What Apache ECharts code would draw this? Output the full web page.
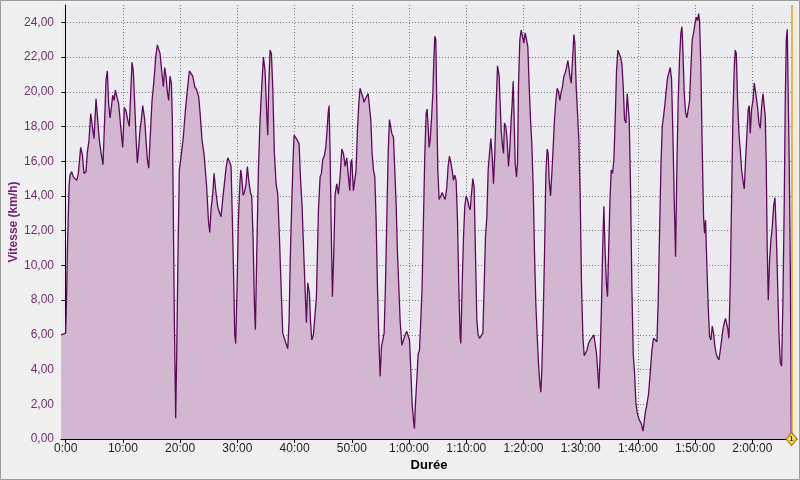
<!DOCTYPE html>
<html><head><meta charset="utf-8">
<script src="https://cdn.jsdelivr.net/npm/echarts@6/dist/echarts.min.js"></script>
<style>html,body{margin:0;padding:0;background:#f0f0f0}#c{width:800px;height:480px}</style>
</head><body><div id="c"></div>
<script>
// Duration in minutes
const minutes = [
-0.8,0.0,0.17,0.29,0.58,0.75,1.04,1.33,1.63,1.92,2.21,2.62,2.91,3.20,3.55,3.78,4.07,4.37,4.66,4.95,
5.30,5.59,5.88,6.23,6.52,6.81,7.05,7.28,7.51,7.75,7.98,8.21,8.44,8.68,8.97,9.26,9.61,9.96,10.25,10.54,
10.83,11.12,11.36,11.59,11.82,12.06,12.29,12.52,12.76,12.99,13.22,13.46,13.81,14.04,14.27,14.51,14.74,15.09,15.44,15.73,
16.02,16.25,16.49,16.78,17.07,17.30,17.53,17.77,18.00,18.23,18.47,18.64,18.82,18.99,19.22,19.40,19.63,19.86,20.21,20.56,
20.91,21.26,21.61,21.90,22.20,22.55,22.90,23.25,23.48,23.83,24.18,24.35,24.64,24.94,25.17,25.40,25.69,25.93,26.22,26.57,
26.80,27.15,27.44,27.73,28.02,28.32,28.61,28.90,29.13,29.36,29.54,29.71,29.95,30.18,30.41,30.59,30.76,31.00,31.23,31.52,
31.75,31.99,32.28,32.51,32.74,32.98,33.15,33.39,33.68,33.97,34.26,34.55,34.84,35.13,35.31,35.48,35.72,35.95,36.18,36.47,
36.77,37.06,37.35,37.64,37.93,38.22,38.51,38.81,39.04,39.27,39.51,39.74,39.91,40.20,40.50,40.79,41.02,41.31,41.60,41.84,
42.07,42.30,42.59,42.77,43.00,43.29,43.53,43.82,44.17,44.46,44.69,44.92,45.22,45.45,45.68,45.86,46.03,46.21,46.38,46.61,
46.85,47.08,47.37,47.66,47.95,48.25,48.54,48.83,49.12,49.41,49.64,49.82,49.99,50.28,50.58,50.75,50.98,51.22,51.45,51.68,
51.92,52.15,52.38,52.62,52.85,53.08,53.32,53.55,53.78,54.02,54.25,54.48,54.71,54.95,55.18,55.41,55.65,55.88,56.11,56.35,
56.58,56.75,56.99,57.28,57.51,57.74,57.98,58.21,58.44,58.74,59.03,59.32,59.61,59.84,60.08,60.31,60.54,60.77,60.95,61.12,
61.36,61.59,61.82,62.06,62.29,62.52,62.76,62.99,63.16,63.34,63.51,63.69,63.92,64.16,64.33,64.51,64.68,64.85,65.03,65.26,
65.55,65.79,66.02,66.31,66.60,66.83,67.07,67.30,67.53,67.77,68.00,68.23,68.47,68.70,68.93,69.05,69.28,69.52,69.75,69.98,
70.22,70.45,70.68,70.91,71.15,71.38,71.61,71.85,72.08,72.31,72.60,72.90,73.13,73.36,73.60,73.83,74.06,74.30,74.53,74.76,
74.99,75.23,75.46,75.75,75.93,76.10,76.33,76.51,76.68,76.92,77.15,77.38,77.62,77.85,78.02,78.20,78.37,78.55,78.78,78.96,
79.13,79.36,79.60,79.83,80.06,80.30,80.53,80.76,81.00,81.23,81.46,81.70,81.93,82.16,82.40,82.63,82.86,83.04,83.21,83.44,
83.68,83.91,84.14,84.32,84.49,84.73,84.96,85.19,85.42,85.66,85.89,86.12,86.36,86.59,86.82,87.06,87.29,87.52,87.76,87.93,
88.11,88.34,88.57,88.81,88.98,89.21,89.45,89.68,89.91,90.15,90.38,90.61,90.84,91.08,91.37,91.66,91.95,92.30,92.53,92.77,
93.00,93.17,93.41,93.64,93.82,94.05,94.28,94.52,94.69,94.87,95.10,95.33,95.56,95.80,96.03,96.26,96.50,96.73,96.96,97.20,
97.43,97.66,97.90,98.13,98.30,98.48,98.71,98.94,99.18,99.41,99.65,99.88,100.23,100.58,100.90,101.28,101.57,101.86,102.15,102.44,
102.73,103.02,103.32,103.55,103.78,104.02,104.25,104.48,104.72,104.95,105.18,105.41,105.65,105.88,106.11,106.35,106.58,106.81,107.04,107.28,
107.51,107.69,107.86,108.09,108.33,108.56,108.79,109.03,109.26,109.49,109.73,109.96,110.19,110.43,110.60,110.77,111.00,111.24,111.47,111.65,
111.82,112.06,112.29,112.52,112.76,112.99,113.22,113.46,113.69,113.92,114.16,114.39,114.62,114.85,115.09,115.32,115.55,115.73,115.90,116.14,
116.37,116.60,116.84,117.01,117.19,117.42,117.65,117.88,118.12,118.35,118.58,118.82,119.05,119.28,119.46,119.63,119.87,120.10,120.33,120.51,
120.68,120.91,121.15,121.38,121.61,121.85,122.08,122.25,122.43,122.60,122.78,123.01,123.25,123.48,123.71,123.95,124.18,124.41,124.64,124.88,
125.11,125.34,125.58,125.75,125.93,126.10,126.28,126.45,126.63,126.74,126.80
];
// Speed in km/h
const speeds = [
6.0,6.1,8.4,10.7,14.5,15.2,15.4,15.1,15.2,14.9,15.3,16.8,16.4,15.3,15.4,16.5,17.2,18.75,18.0,17.3,
19.6,18.4,17.2,16.4,15.8,18.4,20.7,21.2,19.3,18.5,19.1,19.8,19.5,20.1,20.2,19.3,18.0,16.8,19.1,18.9,
18.4,18.0,19.9,21.7,21.2,19.3,17.4,15.9,16.8,17.8,18.4,19.2,18.4,17.2,16.1,15.6,17.2,19.5,20.7,22.0,
22.7,22.8,22.2,21.2,20.3,21.4,20.9,20.0,19.5,20.9,20.5,18.4,12.6,6.9,1.2,4.9,10.7,15.5,16.4,17.4,
18.9,20.1,21.2,21.3,20.9,20.3,20.1,19.7,18.8,17.2,16.4,16.3,14.5,12.6,11.9,13.2,14.1,15.3,14.3,13.4,
13.1,12.8,13.8,14.7,15.6,16.2,16.0,15.7,12.6,9.2,6.0,5.5,8.8,12.6,14.5,15.5,15.1,14.05,14.2,14.7,
15.7,14.9,14.2,14.0,11.65,7.8,6.3,10.7,15.5,18.4,20.3,22.0,21.2,18.75,17.5,20.3,22.4,22.2,20.3,16.45,
14.7,14.1,11.65,8.8,6.1,5.8,5.5,5.2,6.85,10.7,13.6,16.1,17.5,17.6,17.2,17.0,15.1,13.4,10.7,8.6,
6.7,9.0,8.4,6.85,5.7,6.0,6.1,8.2,13.2,15.1,15.3,16.1,16.35,16.8,17.8,18.75,19.2,16.45,12.6,8.2,
10.7,14.1,14.7,14.1,15.1,16.7,16.45,15.7,16.2,15.1,14.3,15.9,16.1,14.3,14.2,15.5,17.8,19.3,20.2,20.1,
19.7,19.4,19.6,19.7,19.9,20.0,18.4,16.45,15.5,15.1,12.6,8.8,5.9,3.6,5.3,5.7,6.1,8.8,12.6,16.45,
18.4,18.5,17.6,17.4,15.5,13.6,10.7,8.8,6.85,5.4,5.7,6.0,6.2,6.1,5.7,4.0,2.05,1.1,0.6,2.05,
3.4,4.9,5.1,6.85,8.8,12.6,16.45,18.75,19.0,18.0,16.8,17.2,18.4,19.9,21.8,23.2,23.0,19.3,15.5,13.8,
14.0,14.2,14.0,13.8,14.5,15.7,16.3,15.9,15.5,14.9,15.2,14.9,12.6,8.8,5.9,5.5,8.8,11.65,13.4,14.0,
13.8,13.4,13.2,14.1,15.0,14.5,10.7,6.85,6.0,5.8,5.7,6.1,8.8,11.65,12.8,15.5,16.45,17.3,16.3,14.7,
16.45,19.3,21.5,20.9,19.3,17.8,16.9,16.45,18.2,18.0,17.2,15.7,16.8,18.4,19.3,20.6,18.4,15.9,15.1,15.9,
20.3,23.0,23.55,23.2,22.8,23.4,23.0,22.6,20.3,18.4,17.0,14.5,10.7,7.8,5.9,4.35,3.2,2.7,4.0,6.85,
10.7,15.3,16.7,16.45,14.9,14.0,15.3,16.8,18.4,19.5,20.2,20.0,19.5,20.0,20.3,20.9,21.1,21.4,21.8,21.4,
20.9,20.5,21.8,23.3,22.8,20.3,18.75,17.2,14.0,8.8,5.9,4.8,4.7,5.1,5.5,5.7,5.8,6.0,6.1,4.9,
3.8,2.9,4.9,7.8,10.7,13.4,10.7,8.8,8.2,10.7,13.6,15.5,15.3,16.1,18.4,21.2,22.4,22.2,22.0,21.6,
20.3,18.4,18.2,19.9,20.0,18.4,14.5,8.8,4.9,3.8,2.05,1.5,1.1,0.9,0.45,1.5,2.0,2.6,3.8,5.1,
5.8,5.8,5.6,8.0,11.85,15.7,18.0,18.6,19.3,20.1,20.8,21.1,21.4,20.7,17.6,13.7,10.5,15.7,19.5,22.0,
23.4,23.75,22.4,19.9,18.8,18.5,18.4,19.5,21.4,23.0,23.4,23.9,24.3,24.1,24.5,24.1,21.4,16.65,12.8,11.85,
12.6,9.9,7.6,5.9,5.7,6.5,6.1,5.3,4.9,4.7,4.55,5.1,5.7,6.3,6.7,6.95,6.85,6.3,5.8,9.0,
13.8,18.6,21.4,22.4,22.2,19.5,17.6,16.65,15.5,14.9,14.4,16.1,17.6,19.0,19.2,17.6,19.0,19.5,20.5,20.6,
19.7,19.1,18.2,17.9,19.1,19.9,19.9,18.6,15.7,10.9,8.0,10.3,11.5,12.2,13.4,13.9,11.85,9.0,6.1,4.4,
4.2,8.0,13.8,19.5,23.0,23.6,19.5,15.7,9.9,4.2,0.3
];
const xTicks = [0,10,20,30,40,50,60,70,80,90,100,110,120];
const yTicks = [0,2,4,6,8,10,12,14,16,18,20,22,24];
const lapMarker = 126.85;
const xMin = -0.82, xMax = 127.8, yMin = 0, yMax = 25;

function fmtDur(v){
  const m = Math.round(v);
  if (m < 60) return m + ':00';
  const h = Math.floor(m/60), mm = m % 60;
  return h + ':' + (mm < 10 ? '0' : '') + mm + ':00';
}

const chart = echarts.init(document.getElementById('c'), null, {renderer:'canvas'});
const dotted = {color:'#7c7c7c', width:1, type:[1,2]};
chart.setOption({
  backgroundColor:'#f0f0f0',
  animation:false,
  textStyle:{fontFamily:'"Liberation Sans", Arial, sans-serif'},
  graphic:[{type:'rect', shape:{x:0.5,y:0.5,width:799,height:479}, style:{fill:'none', stroke:'#9a9a9a', lineWidth:1}, z:100}],
  grid:{left:61, right:3, top:5, bottom:41, show:true, backgroundColor:'#ececf0', borderWidth:0, containLabel:false, outerBoundsMode:'none'},
  xAxis:{
    type:'value', min:xMin, max:xMax,
    name:'Durée', nameLocation:'middle', nameGap:20, nameMoveOverlap:false,
    nameTextStyle:{fontWeight:'bold', fontSize:13, color:'#000'},
    axisLine:{show:true, onZero:false, lineStyle:{color:'#000', width:1}},
    axisTick:{show:true, customValues:xTicks, length:4, lineStyle:{color:'#000'}},
    axisLabel:{customValues:xTicks, formatter:fmtDur, color:'#222', fontSize:12, margin:4},
    splitLine:{show:true, lineStyle:dotted}
  },
  yAxis:{
    type:'value', min:yMin, max:yMax,
    name:'Vitesse (km/h)', nameLocation:'middle', nameGap:41, nameRotate:90, nameMoveOverlap:false,
    nameTextStyle:{fontWeight:'bold', fontSize:12, color:'#7a1f78'},
    axisLine:{show:true, lineStyle:{color:'#000', width:1}},
    axisTick:{show:true, customValues:yTicks, length:4, lineStyle:{color:'#000'}},
    axisLabel:{customValues:yTicks, formatter:v=>v.toFixed(2).replace('.',','), color:'#6e2f6c', fontSize:12, margin:7},
    splitLine:{show:true, lineStyle:dotted}
  },
  series:[{
    type:'line',
    data:minutes.map((t,i)=>[t,speeds[i]]),
    showSymbol:false, symbol:'none',
    lineStyle:{color:'#5e0a5c', width:1.3},
    areaStyle:{color:'#d3b6cf', opacity:1},
    markArea:{silent:true, itemStyle:{color:'#f3ead8'}, data:[[{xAxis:lapMarker},{xAxis:xMax}]]},
    markLine:{silent:true, symbol:['none','none'], label:{show:false},
      lineStyle:{color:'#d6a23a', width:1.5, type:'solid'}, data:[{xAxis:lapMarker}]},
    markPoint:{silent:true, data:[{coord:[lapMarker,0], symbol:'diamond', symbolSize:[11,13],
      itemStyle:{color:'#f6d66e', borderColor:'#a87500', borderWidth:1},
      label:{show:true, formatter:'1', fontSize:8, color:'#000', position:'inside'}}]}
  }]
});
</script></body></html>
